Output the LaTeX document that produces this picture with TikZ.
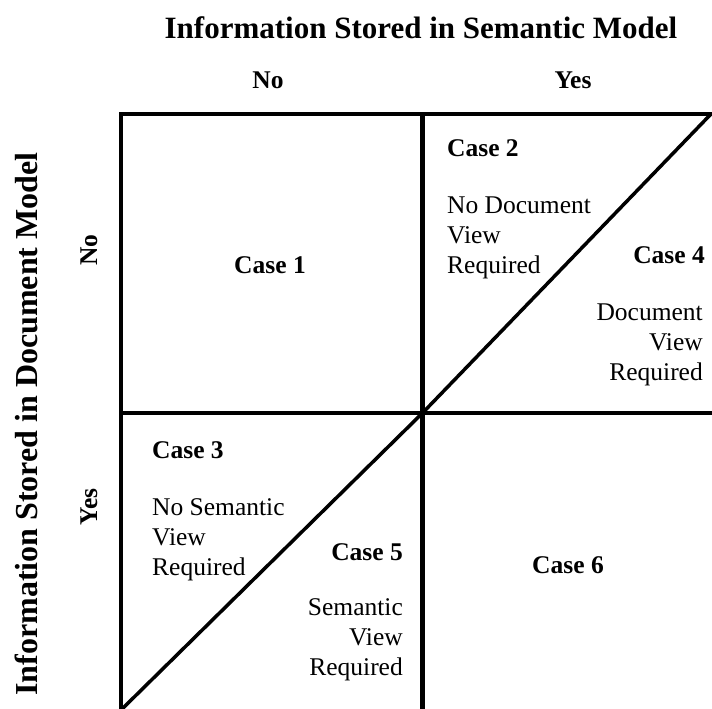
\documentclass[tikz,border=0pt]{standalone}
\usepackage{fontspec}
\setmainfont{Liberation Serif}
\begin{document}
\begin{tikzpicture}[x=1pt,y=-1pt,
  grid/.style={line width=4.5pt},
  diag/.style={line width=3.5pt},
  head/.style={font=\fontsize{31}{36}\selectfont\bfseries},
  lab/.style={font=\fontsize{25.5}{30}\selectfont\bfseries},
  txt/.style={font=\fontsize{25.5}{30}\selectfont,inner sep=0pt}]
  \useasboundingbox (0,0) rectangle (712,709);
  \begin{scope}
    \clip (0,0) rectangle (712,709);
    % quadrant lines
    \draw[grid] (121,740) -- (121,114) -- (740,114);
    \draw[grid] (422.5,114) -- (422.5,740);
    \draw[grid] (121,413) -- (740,413);
    % diagonals
    \coordinate (mid) at (422.5,413);
    \draw[diag] (mid) -- (711,114);
    \draw[diag] (mid) -- (119,712);
  \end{scope}
  % headings
  \node[head] (semtitle) at (421,28) {Information Stored in Semantic Model};
  \node[head,rotate=90,font=\fontsize{32}{36}\selectfont\bfseries] (doctitle) at (26,424) {Information Stored in Document Model};
  \node[lab] (colno) at (268,80) {No};
  \node[lab] (colyes) at (573,80) {Yes};
  \node[lab,rotate=90] (rowno) at (89,250) {No};
  \node[lab,rotate=90] (rowyes) at (89,507) {Yes};
  % cases (multi-line texts sit on their last baseline)
  \node[lab] (case1) at (270,265) {Case 1};
  \node[lab,anchor=west,inner sep=0pt] (case2) at (447,148) {Case 2};
  \node[txt,anchor=base west,align=left] (view2) at (447,273) {No Document\\View\\Required};
  \node[lab,anchor=east,inner sep=0pt] (case4) at (705,255) {Case 4};
  \node[txt,anchor=base east,align=right] (view4) at (703,380) {Document\\View\\Required};
  \node[lab,anchor=west,inner sep=0pt] (case3) at (152,450) {Case 3};
  \node[txt,anchor=base west,align=left] (view3) at (152,575) {No Semantic\\View\\Required};
  \node[lab,anchor=east,inner sep=0pt] (case5) at (403,552) {Case 5};
  \node[txt,anchor=base east,align=right] (view5) at (403,675) {Semantic\\View\\Required};
  \node[lab] (case6) at (568,565) {Case 6};
\end{tikzpicture}
\end{document}
